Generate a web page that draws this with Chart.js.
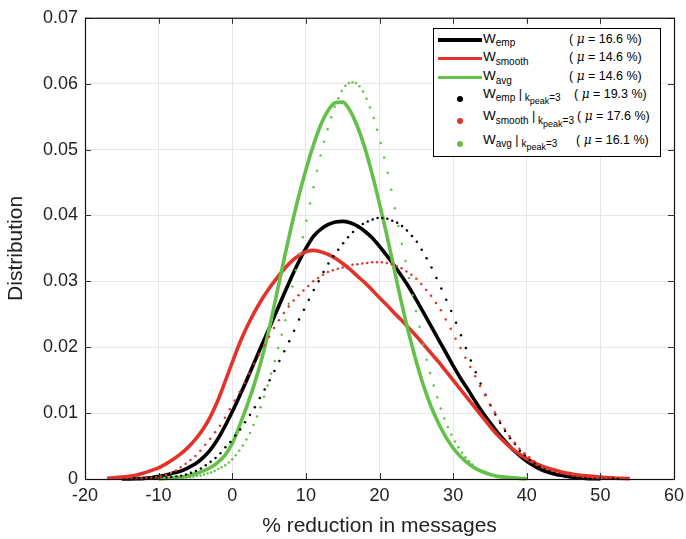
<!DOCTYPE html>
<html>
<head>
<meta charset="utf-8">
<script src="https://cdn.jsdelivr.net/npm/chart.js@4.4.1/dist/chart.umd.min.js"></script>
<style>
  body { margin: 0; background: #fff; }
  #wrap { position: relative; width: 686px; height: 539px; font-family: "Liberation Sans", Arial, Helvetica, sans-serif; }
  #legend { position: absolute; left: 433px; top: 28px; width: 226px; height: 127px; border: 1px solid #000; background: #fff; color: #000; }
  #legend span.t { position: absolute; white-space: nowrap; font-size: 12.5px; line-height: 12.5px; }
  #legend .w { font-size: 13.5px; }
  #legend .sb { font-size: 10px; position: relative; top: 3.5px; }
  #legend .sb2 { font-size: 9px; position: relative; top: 3px; }
  #legend .mu { font-family: "DejaVu Serif", "Liberation Serif", serif; font-style: italic; font-size: 12px; }
</style>
</head>
<body>
<div id="wrap">
  <canvas id="myChart" width="686" height="539"></canvas>
  <div id="legend"></div>
</div>
<script>
// axis ranges / ticks
var xTicks = [-20, -10, 0, 10, 20, 30, 40, 50, 60];
var yTicks = [0, 0.01, 0.02, 0.03, 0.04, 0.05, 0.06, 0.07];

// solid curves, one value per 1 % step from their start
var empStart = -15;
var empVals = [0.00001,0.00002,0.00005,0.0001,0.0002,0.0004,0.0006,0.0009,0.0012,0.0017,
  0.0023,0.0032,0.0044,0.006,0.008,0.0102,0.0126,0.0151,0.0177,0.0203,
  0.0228,0.0254,0.028,0.0305,0.0329,0.035,0.0368,0.0379,0.0386,0.039,
  0.0391,0.0389,0.0384,0.0376,0.0366,0.0353,0.0339,0.0324,0.0308,0.0291,
  0.0272,0.0252,0.0232,0.0212,0.0192,0.0172,0.0153,0.0136,0.0118,0.0101,
  0.0086,0.0071,0.0058,0.0046,0.0036,0.0027,0.002,0.0014,0.001,0.0007,
  0.0005,0.0003,0.0002,0.0001,0.00005,0.00002];

var smoothStart = -17;
var smoothVals = [0.0001,0.0002,0.0003,0.0004,0.0006,0.0009,0.0013,0.0017,0.0023,0.003,
  0.0038,0.0048,0.006,0.0075,0.0094,0.0118,0.0147,0.0177,0.0206,0.0231,
  0.0253,0.0272,0.0289,0.0304,0.0318,0.033,0.0339,0.0345,0.0347,0.0345,
  0.0341,0.0335,0.0327,0.0318,0.0308,0.0298,0.0287,0.0275,0.0264,0.0252,
  0.0241,0.0229,0.0217,0.0204,0.0191,0.0178,0.0164,0.015,0.0136,0.0122,
  0.0108,0.0094,0.008,0.0067,0.0056,0.0046,0.0038,0.0031,0.0025,0.002,
  0.0016,0.0013,0.001,0.0008,0.0006,0.0005,0.0004,0.0003,0.0002,0.00015,
  0.0001,0.00005];

var avgStart = -10;
var avgVals = [0,0.0001,0.0002,0.0003,0.0005,0.0008,0.0012,0.0017,0.0025,0.0036,
  0.0054,0.0081,0.0111,0.0144,0.0182,0.0227,0.0279,0.0332,0.0382,0.0428,
  0.0469,0.0506,0.0537,0.0559,0.0571,0.0572,0.0559,0.0535,0.0503,0.0463,
  0.0418,0.037,0.0318,0.0267,0.022,0.0178,0.0141,0.011,0.0085,0.0064,
  0.0047,0.0034,0.0024,0.0016,0.0011,0.0007,0.0004,0.0003,0.0002,0.0001,
  0.00003];

// k_peak = 3 curves, read at the dot positions
var empK3Start = -13.6, empK3Step = 2 / 3;
var empK3Vals = [0.00001,0.00002,0.00004,0.00007,0.0001,0.00013,0.00017,0.0002,0.00027,0.00038,
  0.0005,0.0007,0.00095,0.0012,0.0016,0.0021,0.0026,0.0032,0.0039,0.0048,
  0.0056,0.0066,0.0075,0.0086,0.0097,0.0109,0.0123,0.0136,0.015,0.0164,
  0.0179,0.0194,0.0209,0.0225,0.0242,0.0257,0.0272,0.0287,0.03,0.0314,
  0.0327,0.0338,0.0348,0.0358,0.0367,0.0375,0.0382,0.0387,0.0391,0.0394,
  0.0396,0.0396,0.0395,0.0392,0.0389,0.0384,0.0377,0.0369,0.036,0.0348,
  0.0335,0.0321,0.0305,0.0289,0.0272,0.0255,0.0237,0.0218,0.0199,0.018,
  0.0162,0.0145,0.0128,0.0112,0.0098,0.0085,0.0073,0.0062,0.0053,0.0043,
  0.0036,0.0029,0.0024,0.0019,0.0015,0.0012,0.001,0.0008,0.0006,0.0005,
  0.0004,0.0003,0.0002,0.00015,0.0001,0.00007,0.00005,0.00003,0.00002,0.00001];

var smoothK3Start = -15, smoothK3Step = 2 / 3;
var smoothK3Vals = [0.00001,0.00002,0.00004,0.00007,0.0001,0.00015,0.0002,0.00027,0.0004,0.0006,
  0.0009,0.0013,0.0018,0.0023,0.0029,0.0035,0.0043,0.0052,0.0061,0.0071,
  0.0081,0.0093,0.0106,0.0119,0.0132,0.0146,0.016,0.0175,0.0189,0.0203,
  0.0216,0.0229,0.0241,0.0252,0.0262,0.0271,0.0279,0.0286,0.0293,0.03,
  0.0305,0.031,0.0314,0.0317,0.0319,0.0321,0.0323,0.0325,0.0326,0.0327,
  0.0328,0.0329,0.0329,0.0329,0.0328,0.0326,0.0323,0.032,0.0315,0.031,
  0.0304,0.0296,0.0287,0.0278,0.0267,0.0256,0.0242,0.0228,0.0213,0.0199,
  0.0184,0.017,0.0156,0.0141,0.0127,0.0113,0.0101,0.0088,0.0076,0.0065,
  0.0055,0.0046,0.0039,0.0033,0.0027,0.0022,0.0018,0.0015,0.0012,0.001,
  0.0008,0.0007,0.0005,0.0004,0.0003,0.00025,0.0002,0.00012,0.00008,0.00005];

var avgK3Start = -9.6, avgK3Step = 0.48;
var avgK3Vals = [0.00001,0.00002,0.00003,0.00005,0.00007,0.0001,0.00015,0.0002,0.00025,0.00035,
  0.00045,0.00055,0.0007,0.00085,0.001,0.0012,0.0015,0.0018,0.0021,0.0025,
  0.003,0.0036,0.0043,0.0051,0.006,0.007,0.0082,0.0095,0.0109,0.0125,
  0.0142,0.016,0.0179,0.0199,0.0219,0.0241,0.0266,0.0292,0.0317,0.0342,
  0.0367,0.0392,0.0418,0.0443,0.0468,0.0491,0.0512,0.0531,0.0549,0.0565,
  0.0578,0.0589,0.0597,0.0601,0.0602,0.0601,0.0596,0.0588,0.0577,0.0564,
  0.0548,0.053,0.051,0.0488,0.0465,0.0439,0.0411,0.0384,0.0357,0.0331,
  0.0305,0.0279,0.0255,0.0231,0.0204,0.0181,0.0161,0.0142,0.0124,0.0107,
  0.0092,0.0079,0.0067,0.0057,0.0048,0.004,0.0033,0.0027,0.0022,0.0017,
  0.0014,0.0011,0.0008,0.0006,0.0005,0.0004,0.0003,0.0002,0.00015,0.0001];

// legend text
var legendSubs = ["emp", "smooth", "avg", "emp", "smooth", "avg"];
var legendMeans = ["16.6", "14.6", "14.6", "19.3", "17.6", "16.1"];

var black = "#000000", red = "#e2332a", green = "#63c049";

function toPoints(start, step, vals) {
  return vals.map(function (v, i) { return { x: +(start + i * step).toFixed(3), y: v }; });
}

function solid(label, data, color, order) {
  return { label: label, data: data, showLine: true, borderColor: color, backgroundColor: color, borderWidth: 3.6,
    pointRadius: 0, cubicInterpolationMode: "monotone", fill: false, clip: false, order: order };
}
function dotted(label, data, color, order) {
  return { label: label, data: data, showLine: false, pointRadius: 1.25, pointBorderWidth: 0,
    pointBackgroundColor: color, borderColor: color, clip: false, order: order };
}

// inward ticks + axes box like matlab
var axesBox = {
  id: "axesBox",
  afterDraw: function (chart) {
    var ctx = chart.ctx, a = chart.chartArea, sx = chart.scales.x, sy = chart.scales.y;
    ctx.save();
    ctx.strokeStyle = "#333";
    ctx.lineWidth = 1;
    ctx.beginPath();
    xTicks.forEach(function (t) {
      var px = Math.round(sx.getPixelForValue(t)) + 0.5;
      ctx.moveTo(px, a.bottom); ctx.lineTo(px, a.bottom - 6);
      ctx.moveTo(px, a.top); ctx.lineTo(px, a.top + 6);
    });
    yTicks.forEach(function (t) {
      var py = Math.round(sy.getPixelForValue(t)) + 0.5;
      ctx.moveTo(a.left, py); ctx.lineTo(a.left + 6, py);
      ctx.moveTo(a.right, py); ctx.lineTo(a.right - 6, py);
    });
    ctx.stroke();
    ctx.strokeStyle = "#111";
    ctx.lineWidth = 1.2;
    ctx.strokeRect(a.left + 0.5, a.top + 0.5, a.right - a.left, a.bottom - a.top);
    ctx.restore();
  }
};

new Chart("myChart", {
  type: "scatter",
  data: {
    datasets: [
      solid("W_emp", toPoints(empStart, 1, empVals), black, 6),
      solid("W_smooth", toPoints(smoothStart, 1, smoothVals), red, 5),
      solid("W_avg", toPoints(avgStart, 1, avgVals), green, 4),
      dotted("W_emp k3", toPoints(empK3Start, empK3Step, empK3Vals), black, 3),
      dotted("W_smooth k3", toPoints(smoothK3Start, smoothK3Step, smoothK3Vals), red, 2),
      dotted("W_avg k3", toPoints(avgK3Start, avgK3Step, avgK3Vals), green, 1)
    ]
  },
  options: {
    responsive: false,
    animation: false,
    layout: { padding: { top: 15, right: 12, left: 0, bottom: 0 } },
    plugins: { legend: { display: false }, tooltip: { enabled: false } },
    scales: {
      x: {
        type: "linear", min: -20, max: 60,
        afterFit: function (s) { s.height = 60; s.paddingRight = 10; s.paddingLeft = 10; },
        afterBuildTicks: function (s) { s.ticks = xTicks.map(function (v) { return { value: v }; }); },
        ticks: { font: { size: 18, family: "'Liberation Sans', Arial" }, color: "#222", padding: 6, maxRotation: 0 },
        grid: { color: "#e6e6e6", drawTicks: false },
        border: { display: false },
        title: { display: true, text: "% reduction in messages", color: "#222",
          font: { size: 21, family: "'Liberation Sans', Arial" }, padding: { top: 0, bottom: 0 } }
      },
      y: {
        min: 0, max: 0.07,
        afterFit: function (s) { s.width = 85; },
        afterBuildTicks: function (s) { s.ticks = yTicks.map(function (v) { return { value: v }; }); },
        ticks: { font: { size: 18, family: "'Liberation Sans', Arial" }, color: "#222", padding: 7,
          callback: function (v) { return v === 0 ? "0" : v.toFixed(2); } },
        grid: { color: "#e6e6e6", drawTicks: false },
        border: { display: false },
        title: { display: true, text: "Distribution", color: "#222",
          font: { size: 21, family: "'Liberation Sans', Arial" }, padding: { top: 4, bottom: 0 } }
      }
    }
  },
  plugins: [axesBox]
});

// legend (html so the subscripts stay real text)
(function () {
  var box = document.getElementById("legend");
  var colors = [black, red, green, black, red, green];
  var baseY = [15.3, 33.7, 52.7, 70.3, 92.7, 116.3];
  var markY = [12, 30.3, 49.3, 71, 92.7, 116];
  var meanX = [135, 135, 135, 140, 143, 142];
  function txt(html, left, base) {
    var s = document.createElement("span");
    s.className = "t";
    s.innerHTML = html;
    s.style.left = left + "px";
    s.style.top = (base - 10.6 - 1) + "px";
    box.appendChild(s);
  }
  for (var i = 0; i < 6; i++) {
    var m = document.createElement("div");
    m.style.position = "absolute";
    m.style.background = colors[i];
    if (i < 3) {
      m.style.left = "4px"; m.style.width = "44px"; m.style.height = "3.6px";
      m.style.top = (markY[i] - 1.8 - 1) + "px";
    } else {
      m.style.left = (26 - 3) + "px"; m.style.width = "6px"; m.style.height = "6px";
      m.style.borderRadius = "50%";
      m.style.top = (markY[i] - 3 - 1) + "px";
    }
    box.appendChild(m);
    var label = "<span class='w'>W</span><span class='sb'>" + legendSubs[i] + "</span>";
    if (i >= 3) label += " |<span class='sb'>&nbsp;k<span class='sb2'>peak</span>=3</span>";
    txt(label, 49, baseY[i]);
    txt("( <span class='mu'>\u03bc</span> = " + legendMeans[i] + " %)", meanX[i], baseY[i]);
  }
})();
</script>
</body>
</html>
